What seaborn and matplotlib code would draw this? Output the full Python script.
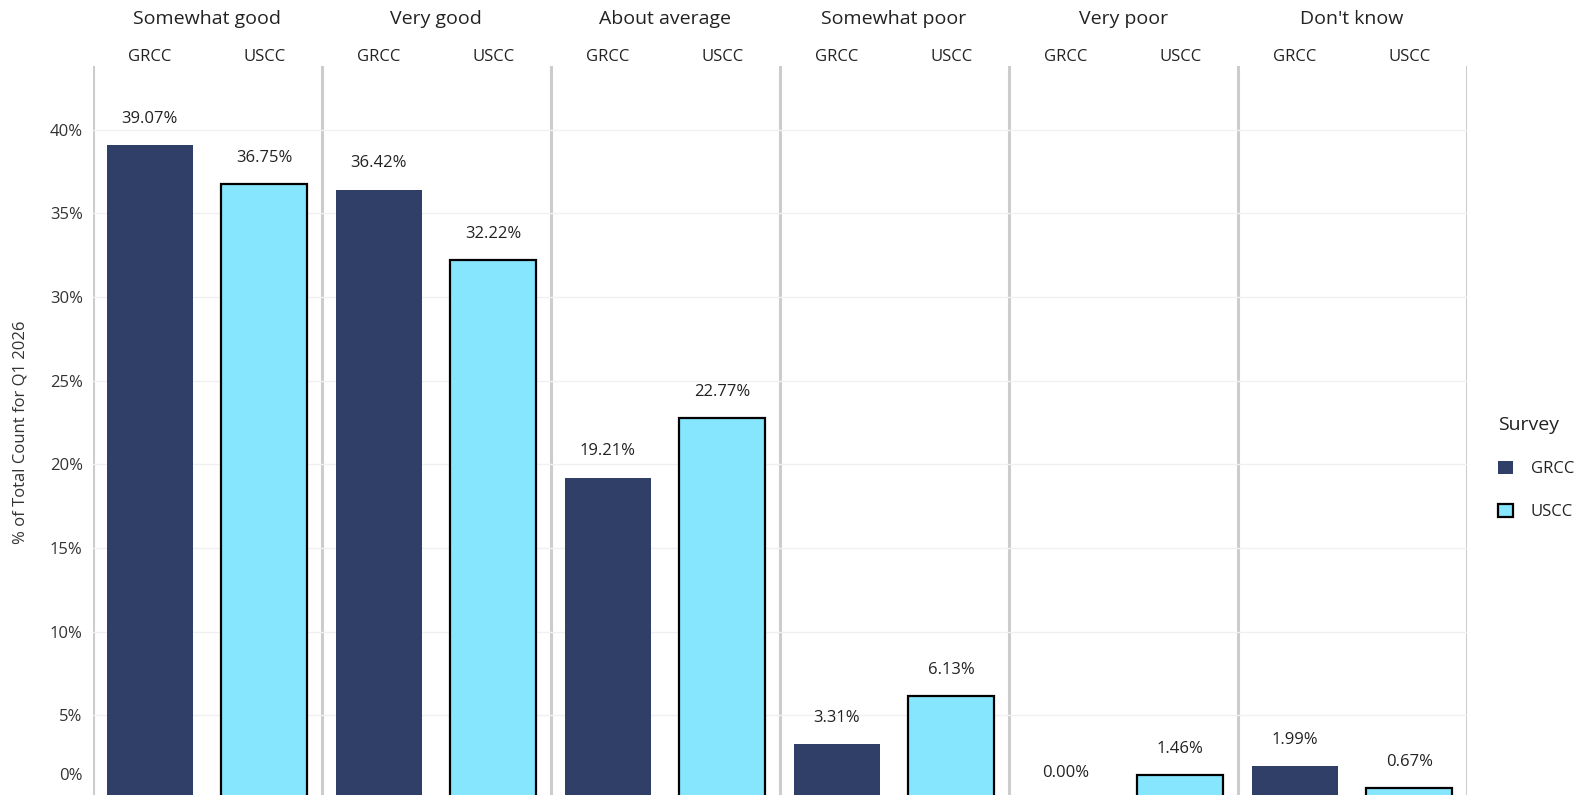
import matplotlib
matplotlib.use("Agg")
import matplotlib.pyplot as plt
import matplotlib.transforms as mtransforms
from matplotlib.patches import Patch
import seaborn as sns
import pandas as pd

categories = ["Somewhat good", "Very good", "About average", "Somewhat poor", "Very poor", "Don't know"]
surveys = ["GRCC", "USCC"]
grcc_pct = [39.07, 36.42, 19.21, 3.31, 0.00, 1.99]
uscc_pct = [36.75, 32.22, 22.77, 6.13, 1.46, 0.67]
y_ticks = [0, 5, 10, 15, 20, 25, 30, 35, 40]
y_label = "% of Total Count for Q1 2026"
colors = {"GRCC": "#303F68", "USCC": "#86E6FE"}

rows = []
for c, g, u in zip(categories, grcc_pct, uscc_pct):
    rows.append({"slot": f"{c}|GRCC", "Survey": "GRCC", "Category": c, "pct": g})
    rows.append({"slot": f"{c}|USCC", "Survey": "USCC", "Category": c, "pct": u})
df = pd.DataFrame(rows)
order = list(df["slot"])

sns.set_theme(style="white")
plt.rcParams["font.family"] = ["Open Sans", "DejaVu Sans"]

fig = plt.figure(figsize=(15.77, 7.95), dpi=100)
H = 795.0
W = 1577.0
ax_top, ax_bot = 66.0, 799.0
ax = fig.add_axes([92.5 / W, 1 - ax_bot / H, (1466.7 - 92.5) / W, (ax_bot - ax_top) / H])

sns.barplot(data=df, x="slot", y="pct", hue="Survey", order=order, hue_order=surveys,
            palette=colors, dodge=False, width=0.75, ax=ax, legend=False, saturation=1)

for cont, s in zip(ax.containers, surveys):
    for p in cont.patches:
        if s == "USCC":
            p.set_edgecolor("black")
            p.set_linewidth(1.6)
        else:
            p.set_linewidth(0)
    vals = df[df["Survey"] == s]["pct"].tolist()
    ax.bar_label(cont, labels=[f"{v:.2f}%" for v in vals], padding=13, fontsize=12, color="#222222")

ax.set_ylim(0, 43.8)
ax.set_xlim(-0.5, len(order) - 0.5)
ax.set_yticks(y_ticks)
ax.set_yticklabels([f"{t}%" for t in y_ticks], fontsize=12, color="#333333")
ax.tick_params(axis="y", length=0, pad=7)
ax.yaxis.grid(True, color="#f0f0f0", linewidth=1)
ax.set_axisbelow(True)
# shift the 0% label up so it remains visible as in the reference
lab0 = ax.get_yticklabels()[0]
lab0.set_transform(lab0.get_transform() + mtransforms.ScaledTranslation(0, 25 / 100, fig.dpi_scale_trans))

ax.xaxis.tick_top()
ax.set_xticks(range(len(order)))
ax.set_xticklabels([s.split("|")[1] for s in order], fontsize=12, color="#222222")
ax.tick_params(axis="x", length=0, pad=1)
ax.set_xlabel("")
ax.set_ylabel(y_label, fontsize=12, color="#333333", labelpad=15)

for sp in ax.spines.values():
    sp.set_visible(False)

for i in range(len(categories) + 1):
    ax.axvline(2 * i - 0.5, color="#cccccc", linewidth=2.2, zorder=0)

trans = mtransforms.blended_transform_factory(ax.transData, ax.transAxes)
for i, c in enumerate(categories):
    ax.text(2 * i + 0.5, 1 + 47 / (ax_bot - ax_top), c, transform=trans, ha="center", va="center",
            fontsize=14, color="#222222")

handles = [Patch(facecolor=colors["GRCC"], edgecolor="none"),
           Patch(facecolor=colors["USCC"], edgecolor="black", linewidth=1.6)]
leg = fig.legend(handles, surveys, title="Survey", loc="upper left",
                 bbox_to_anchor=(1490 / W, 1 - 408 / H), frameon=False, fontsize=12,
                 title_fontsize=14, borderpad=0, labelspacing=1.6, handlelength=0.85,
                 handleheight=0.85, handletextpad=1.1, alignment="left")
leg._legend_box.sep = 19
for t in leg.get_texts():
    t.set_color("#222222")
leg.get_title().set_color("#222222")

fig.savefig("out.png", dpi=100)
